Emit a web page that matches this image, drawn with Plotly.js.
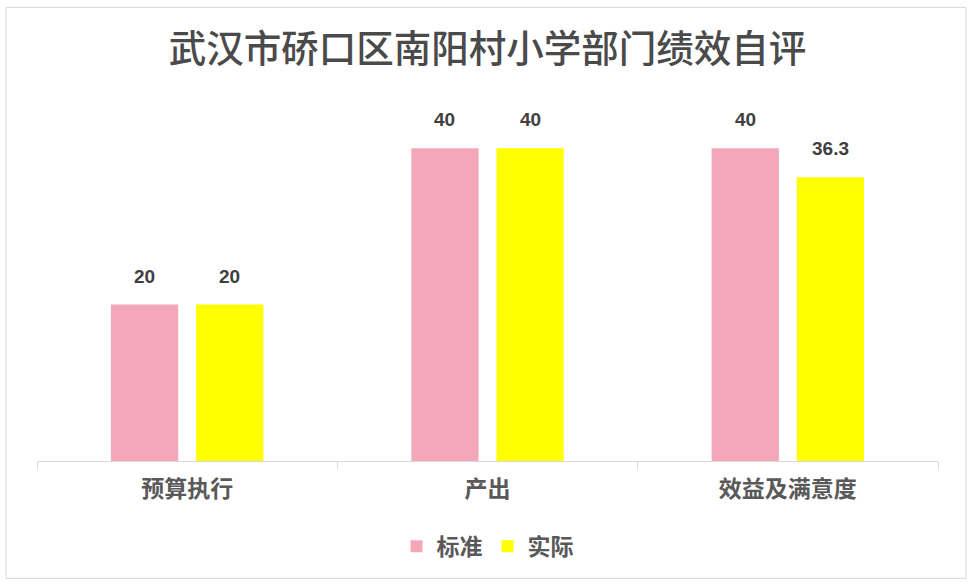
<!DOCTYPE html>
<html>
<head>
<meta charset="utf-8">
<script src="https://cdn.plot.ly/plotly-3.0.1.min.js"></script>
<style>html,body{margin:0;padding:0;background:#fff;}#chart{width:969px;height:582px;}</style>
</head>
<body>
<div id="chart"></div>
<script>
const categories = ["预算执行", "产出", "效益及满意度"];
const seriesNames = ["标准", "实际"];
const standardValues = [20, 40, 40];
const actualValues = [20, 40, 36.3];
const titleText = "武汉市硚口区南阳村小学部门绩效自评";

const colors = ["#F4A7B9", "#FFFF00"];
const series = [standardValues, actualValues];
const bargap = 0.433;
const slot = (1 - bargap) / series.length;

const traces = series.map((vals, i) => ({
  type: "bar",
  name: seriesNames[i],
  x: categories,
  y: vals,
  marker: {color: colors[i]},
  hoverinfo: "x+y"
}));

const annotations = [];
series.forEach((vals, i) => {
  const off = (i - (series.length - 1) / 2) * slot;
  vals.forEach((v, j) => {
    annotations.push({
      xref: "x", yref: "y",
      x: j + off, y: v,
      text: String(v),
      showarrow: false,
      yanchor: "bottom",
      yshift: 16,
      font: {family: "Liberation Sans, Arial, sans-serif", size: 19, color: "#404040", weight: "bold"}
    });
  });
});

const layout = {
  width: 969, height: 582,
  margin: {l: 37, r: 31, t: 70, b: 121},
  paper_bgcolor: "#ffffff",
  plot_bgcolor: "#ffffff",
  title: {
    text: titleText,
    x: 0.5, xref: "paper", xanchor: "center",
    y: 1 - 49 / 582, yref: "container", yanchor: "middle",
    font: {family: "Noto Sans CJK SC, sans-serif", size: 37.5, color: "#4a4a4a", weight: 500}
  },
  barmode: "group",
  bargap: bargap,
  bargroupgap: 0.21,
  xaxis: {
    type: "category",
    showline: true, linecolor: "#d9d9d9", linewidth: 1,
    ticks: "outside", tickson: "boundaries", ticklen: 7, tickcolor: "#d9d9d9",
    ticklabelstandoff: 7,
    tickfont: {family: "Noto Sans CJK SC, sans-serif", size: 23, color: "#595959", weight: "bold"},
    showgrid: false, zeroline: false, fixedrange: true
  },
  yaxis: {
    range: [0, 50], visible: false, showgrid: false, zeroline: false, fixedrange: true
  },
  showlegend: true,
  legend: {
    orientation: "h", x: 0.5, xanchor: "center", y: -0.218, yanchor: "middle",
    font: {family: "Noto Sans CJK SC, sans-serif", size: 23, color: "#595959", weight: "bold"},
    itemwidth: 30
  },
  annotations: annotations,
  shapes: [{
    type: "rect", xref: "paper", yref: "paper",
    x0: -0.0344, x1: 1.0311, y0: -0.300, y1: 1.160,
    line: {color: "#d9d9d9", width: 1}, fillcolor: "rgba(0,0,0,0)", layer: "below"
  }]
};

Plotly.newPlot("chart", traces, layout, {displayModeBar: false, staticPlot: true});
</script>
</body>
</html>
